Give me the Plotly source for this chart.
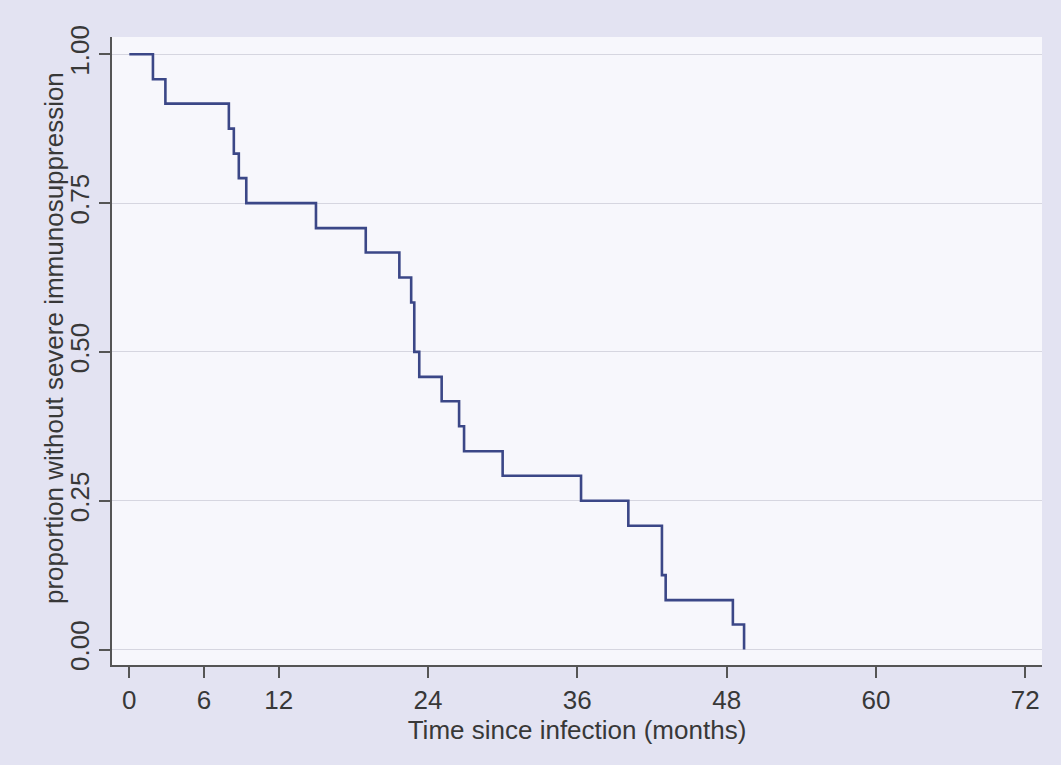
import plotly.graph_objects as go

# Kaplan-Meier estimate (months, proportion)
time_months = [0, 1.9, 2.9, 8.0, 8.4, 8.8, 9.4, 15.0, 19.0, 21.7, 22.65, 22.9, 23.3,
               25.1, 26.5, 26.9, 30.0, 36.3, 40.1, 42.8, 43.1, 48.5, 49.4]
survival = [1.000, 0.958, 0.917, 0.875, 0.833, 0.792, 0.750, 0.708, 0.667, 0.625,
            0.583, 0.500, 0.458, 0.417, 0.375, 0.333, 0.292, 0.250, 0.208, 0.125,
            0.083, 0.042, 0.000]

x_ticks = [0, 6, 12, 24, 36, 48, 60, 72]
y_ticks = [0.00, 0.25, 0.50, 0.75, 1.00]
y_tick_labels = ["0.00", "0.25", "0.50", "0.75", "1.00"]

x_title = "Time since infection (months)"
y_title = "proportion without severe immunosuppression"

FONT = "Liberation Sans, Arial, sans-serif"
TXT = "#383838"
FS = 26

fig = go.Figure()
fig.add_trace(go.Scatter(
    x=time_months, y=survival, mode="lines", line_shape="hv",
    line=dict(color="#3b4787", width=2.6), showlegend=False,
))

fig.update_layout(
    width=1061, height=765,
    margin=dict(l=112, r=19, t=37, b=100),
    paper_bgcolor="#e3e3f2",
    plot_bgcolor="#f7f7fc",
    font=dict(family=FONT, size=FS, color=TXT),
)
fig.update_xaxes(
    range=[-1.39, 73.34], tickmode="array", tickvals=x_ticks,
    ticks="outside", ticklen=11, tickwidth=1.5, tickcolor="#555555",
    showline=True, linecolor="#555555", linewidth=1.5,
    showgrid=False, zeroline=False,
    tickfont=dict(size=FS, color=TXT),
    title=dict(text=x_title, font=dict(size=FS, color=TXT), standoff=0),
)
fig.update_yaxes(
    range=[-0.026, 1.029], tickmode="array", tickvals=y_ticks, ticktext=y_tick_labels,
    ticks="outside", ticklen=11, tickwidth=1.5, tickcolor="#555555",
    showline=True, linecolor="#555555", linewidth=1.5,
    showgrid=True, gridcolor="#d6d6e0", gridwidth=1, zeroline=False,
    tickangle=-90,
    tickfont=dict(size=FS, color=TXT),
)
fig.add_annotation(
    text=y_title, textangle=-90, showarrow=False,
    xref="paper", yref="paper", x=(54 - 112) / 930, y=(665 - 338) / 628,
    xanchor="center", yanchor="middle",
    font=dict(size=FS, color=TXT, family=FONT),
)

fig.write_html("out.html")
